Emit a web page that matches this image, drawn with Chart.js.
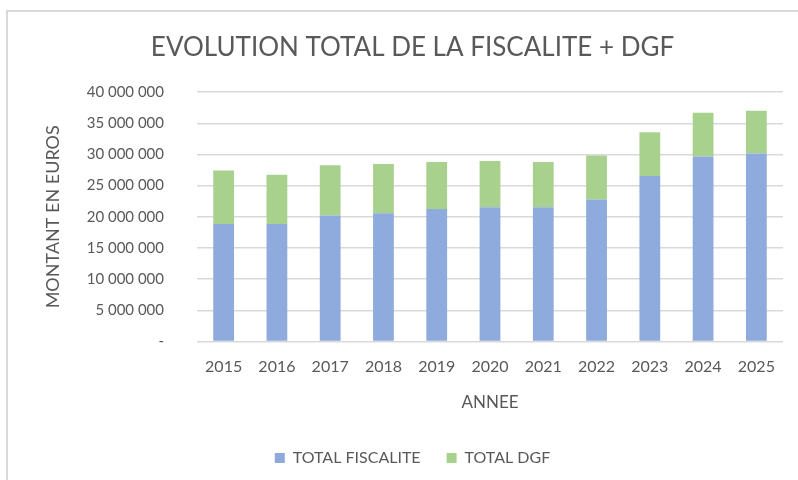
<!DOCTYPE html>
<html>
<head>
<meta charset="utf-8">
<script src="https://cdn.jsdelivr.net/npm/chart.js@4"></script>
<style>
  html, body { margin: 0; padding: 0; background: #fff; }
  #frame {
    position: absolute; left: 6px; top: 10px;
    width: 792px; height: 470px;
    border-left: 2px solid #d9d9d9; border-top: 2px solid #d9d9d9;
  }
</style>
</head>
<body>
<div id="frame"><canvas id="chart" width="790" height="468"></canvas></div>
<script>
const annees = ["2015", "2016", "2017", "2018", "2019", "2020", "2021", "2022", "2023", "2024", "2025"];
const totalFiscalite = [18850000, 18850000, 20190000, 20560000, 21260000, 21530000, 21530000, 22770000, 26540000, 29660000, 30150000];
const totalDgf = [8600000, 7910000, 8070000, 7910000, 7540000, 7430000, 7270000, 7050000, 7050000, 7050000, 6890000];

const gris = "#595959";
const police = "Lato, 'Open Sans', sans-serif";

function formatMontant(v) {
  if (v === 0) return "-";
  return String(v).replace(/\B(?=(\d{3})+(?!\d))/g, " ");
}

new Chart(document.getElementById("chart"), {
  type: "bar",
  data: {
    labels: annees,
    datasets: [
      {
        label: "TOTAL FISCALITE",
        backgroundColor: "#8faadc",
        data: totalFiscalite,
      },
      {
        label: "TOTAL DGF",
        backgroundColor: "#a9d18e",
        data: totalDgf,
      },
    ],
  },
  options: {
    responsive: false,
    animation: false,
    barPercentage: 0.39,
    categoryPercentage: 1,
    layout: {
      padding: { left: 34, right: 15, top: 4, bottom: 4 },
    },
    plugins: {
      title: {
        display: true,
        text: "EVOLUTION TOTAL DE LA FISCALITE + DGF",
        color: gris,
        font: { family: police, size: 26, weight: "normal" },
        padding: { top: 16, bottom: 29 },
      },
      legend: {
        position: "bottom",
        labels: {
          color: gris,
          font: { family: police, size: 16 },
          boxWidth: 10,
          boxHeight: 10,
          padding: 26,
        },
      },
      tooltip: { enabled: false },
    },
    scales: {
      x: {
        stacked: true,
        grid: { display: false },
        border: { display: false },
        ticks: {
          color: gris,
          font: { family: police, size: 16 },
          padding: 8,
        },
        title: {
          display: true,
          text: "ANNEE",
          color: gris,
          font: { family: police, size: 17 },
          padding: { top: 8, bottom: 11 },
        },
      },
      y: {
        stacked: true,
        min: 0,
        max: 40000000,
        afterFit: function (scale) {
          scale.width = 155;
        },
        grid: {
          color: "#d9d9d9",
          lineWidth: 1.5,
          drawTicks: false,
        },
        border: { display: false },
        ticks: {
          stepSize: 5000000,
          color: gris,
          font: { family: police, size: 15 },
          padding: 33,
          callback: function (value) {
            return formatMontant(value);
          },
        },
        title: {
          display: true,
          text: "MONTANT EN EUROS",
          color: gris,
          font: { family: police, size: 18 },
          padding: 0,
        },
      },
    },
  },
});
</script>
</body>
</html>
